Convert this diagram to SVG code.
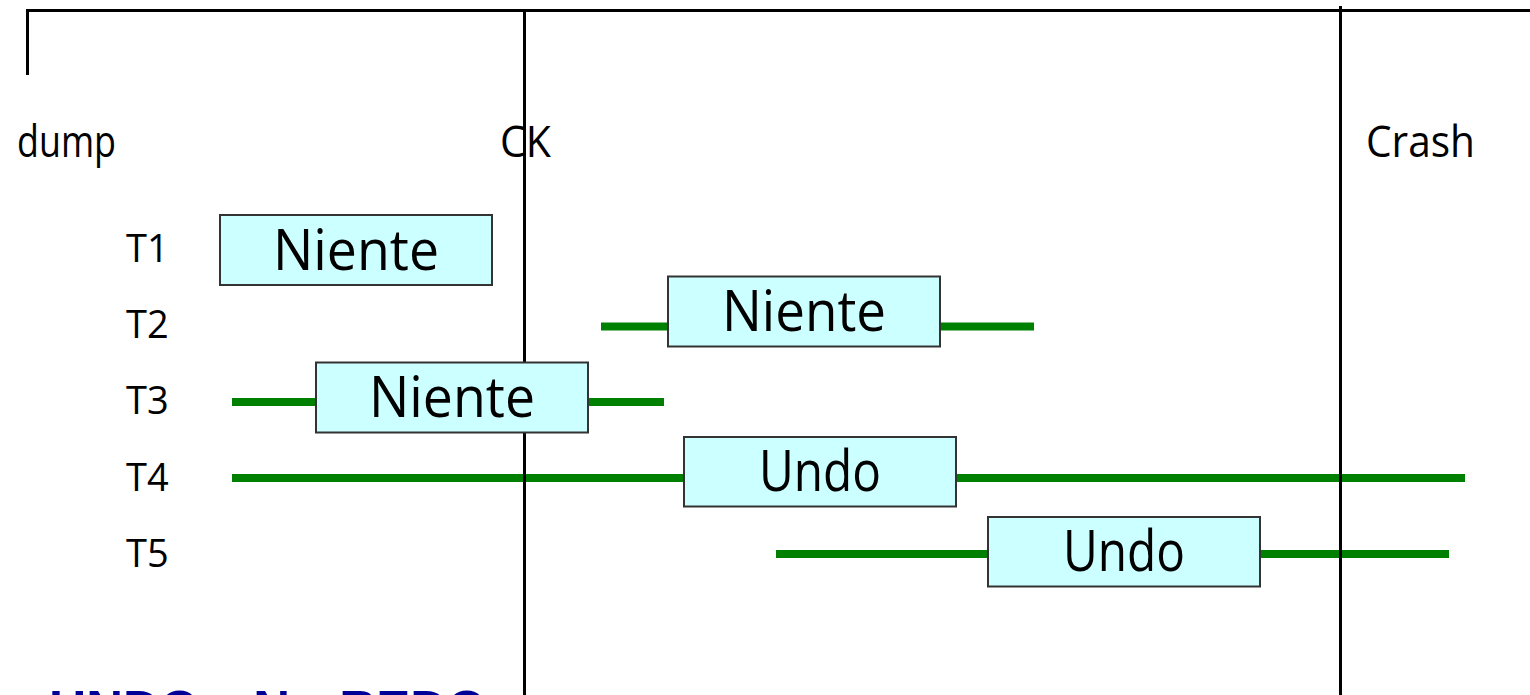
<svg xmlns="http://www.w3.org/2000/svg" width="1530" height="695" viewBox="0 0 1530 695">
  <style>
    .lbl { font-family: "Open Sans", "Noto Sans", "DejaVu Sans", sans-serif; fill: #000; }
    .top { font-size: 44px; }
    .tx { font-size: 38px; }
    .boxtxt { font-size: 56px; text-anchor: middle; }
    .box { fill: #CCFFFF; stroke: #333333; stroke-width: 2; }
    .life { stroke: #008000; stroke-width: 8; fill: none; }
    .axis { stroke: #000; stroke-width: 3; fill: none; }
    .title { font-family: "Liberation Sans", Arial, sans-serif; font-weight: bold; font-size: 51px; fill: #000096; }
  </style>

  <rect width="1530" height="695" fill="#ffffff"/>

  <!-- connectors: transaction lifelines -->
  <g id="connectors">
    <line class="life" x1="601" y1="326.5" x2="1034" y2="326.5"/>
    <line class="life" x1="232" y1="402" x2="664" y2="402"/>
    <line class="life" x1="232" y1="478" x2="1465" y2="478"/>
    <line class="life" x1="776" y1="554" x2="1449" y2="554"/>
  </g>

  <!-- timeline axes -->
  <g id="timeline">
    <line class="axis" x1="27.5" y1="10.5" x2="1530" y2="10.5"/>
    <line class="axis" x1="27.5" y1="9" x2="27.5" y2="75"/>
    <line class="axis" x1="524.5" y1="10" x2="524.5" y2="695"/>
    <line class="axis" x1="1340.5" y1="6" x2="1340.5" y2="695"/>
    <text class="lbl top" x="17" y="157" textLength="99" lengthAdjust="spacingAndGlyphs">dump</text>
    <text class="lbl top" x="500" y="157" textLength="51" lengthAdjust="spacingAndGlyphs">CK</text>
    <text class="lbl top" x="1366" y="157" textLength="109" lengthAdjust="spacingAndGlyphs">Crash</text>
  </g>

  <g id="T1">
    <text class="lbl tx" x="126" y="262">T1</text>
    <rect class="box" x="220" y="215" width="272" height="70"/>
    <text class="lbl boxtxt" x="356" y="270" textLength="166" lengthAdjust="spacingAndGlyphs">Niente</text>
  </g>

  <g id="T2">
    <text class="lbl tx" x="126" y="338">T2</text>
    <rect class="box" x="668" y="276.5" width="272" height="70"/>
    <text class="lbl boxtxt" x="804" y="331" textLength="164" lengthAdjust="spacingAndGlyphs">Niente</text>
  </g>

  <g id="T3">
    <text class="lbl tx" x="126" y="414">T3</text>
    <rect class="box" x="316" y="362.5" width="272" height="70"/>
    <text class="lbl boxtxt" x="452" y="417" textLength="166" lengthAdjust="spacingAndGlyphs">Niente</text>
  </g>

  <g id="T4">
    <text class="lbl tx" x="126" y="491">T4</text>
    <rect class="box" x="684" y="437" width="272" height="69.5"/>
    <text class="lbl boxtxt" x="820" y="491" textLength="122" lengthAdjust="spacingAndGlyphs">Undo</text>
  </g>

  <g id="T5">
    <text class="lbl tx" x="126" y="567">T5</text>
    <rect class="box" x="988" y="517" width="272" height="69.5"/>
    <text class="lbl boxtxt" x="1124" y="571" textLength="122" lengthAdjust="spacingAndGlyphs">Undo</text>
  </g>

  <g id="caption">
    <text class="title" y="726.5"><tspan x="49.3">UNDO</tspan><tspan x="213">–</tspan><tspan x="253.3">No</tspan><tspan x="339.3">REDO</tspan></text>
  </g>
</svg>
